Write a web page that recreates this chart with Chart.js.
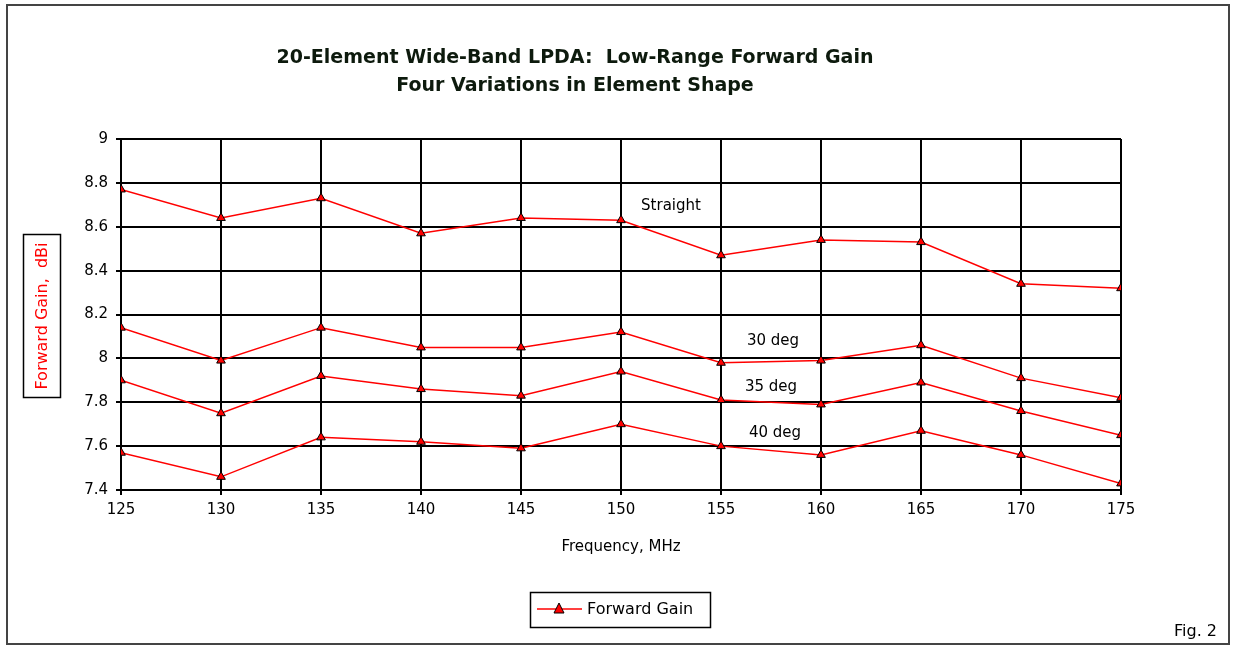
<!DOCTYPE html>
<html>
<head>
<meta charset="utf-8">
<script src="https://cdn.jsdelivr.net/npm/chart.js@4/dist/chart.umd.min.js"></script>
<style>
  body { margin: 0; background: #fff; }
  canvas { display: block; }
</style>
</head>
<body>
<canvas id="chart" width="1236" height="649"></canvas>
<script>
// frequencies (MHz) and forward gain (dBi) for the four element shapes
const freqs = [125, 130, 135, 140, 145, 150, 155, 160, 165, 170, 175];
const straight = [8.77, 8.64, 8.73, 8.57, 8.64, 8.63, 8.47, 8.54, 8.53, 8.34, 8.32];
const deg30 = [8.14, 7.99, 8.14, 8.05, 8.05, 8.12, 7.98, 7.99, 8.06, 7.91, 7.82];
const deg35 = [7.90, 7.75, 7.92, 7.86, 7.83, 7.94, 7.81, 7.79, 7.89, 7.76, 7.65];
const deg40 = [7.57, 7.46, 7.64, 7.62, 7.59, 7.70, 7.60, 7.56, 7.67, 7.56, 7.43];
const seriesNames = ['Straight', '30 deg', '35 deg', '40 deg'];
const titleLines = ['20-Element Wide-Band LPDA:  Low-Range Forward Gain', 'Four Variations in Element Shape'];

const FONT = '"DejaVu Sans", Arial, sans-serif';

function makeSet(values) {
    return {
        label: 'Forward Gain',
        data: freqs.map((f, i) => ({ x: f, y: values[i] })),
        borderColor: '#ff0000',
        borderWidth: 1.5,
        pointStyle: 'triangle',
        pointRadius: 5,
        pointBackgroundColor: '#ff0000',
        pointBorderColor: '#000',
        pointBorderWidth: 1,
        tension: 0
    };
}

const extras = {
    id: 'extras',
    afterDraw(chart) {
        const ctx = chart.ctx;
        const xs = chart.scales.x, ys = chart.scales.y;
        ctx.save();

        // outer frame
        ctx.strokeStyle = '#444';
        ctx.lineWidth = 2;
        ctx.strokeRect(7, 5, 1222, 639);

        // title
        ctx.fillStyle = '#0d1a0d';
        ctx.textAlign = 'center';
        ctx.textBaseline = 'middle';
        ctx.font = 'bold 19px ' + FONT;
        ctx.fillText(titleLines[0], 575, 58);
        ctx.fillText(titleLines[1], 575, 86);

        // y axis title in a box
        ctx.strokeStyle = '#000';
        ctx.lineWidth = 1.5;
        ctx.strokeRect(23.5, 234.5, 37, 163);
        ctx.save();
        ctx.translate(43, 316);
        ctx.rotate(-Math.PI / 2);
        ctx.fillStyle = '#ff0000';
        ctx.font = '16px ' + FONT;
        ctx.fillText('Forward Gain,  dBi', 0, 0);
        ctx.restore();

        // series notes
        const notes = [[152.5, 8.695], [157.6, 8.078], [157.5, 7.868], [157.7, 7.66]];
        ctx.fillStyle = '#000';
        ctx.font = '15px ' + FONT;
        notes.forEach((n, i) => {
            ctx.fillText(seriesNames[i], xs.getPixelForValue(n[0]), ys.getPixelForValue(n[1]));
        });

        // legend
        ctx.strokeStyle = '#000';
        ctx.lineWidth = 1.5;
        ctx.strokeRect(530.5, 592.5, 180, 35);
        ctx.strokeStyle = '#ff0000';
        ctx.lineWidth = 1.5;
        ctx.beginPath();
        ctx.moveTo(537, 609);
        ctx.lineTo(582, 609);
        ctx.stroke();
        ctx.beginPath();
        ctx.moveTo(559, 603);
        ctx.lineTo(564, 613);
        ctx.lineTo(554, 613);
        ctx.closePath();
        ctx.fillStyle = '#ff0000';
        ctx.fill();
        ctx.strokeStyle = '#000';
        ctx.lineWidth = 1;
        ctx.stroke();
        ctx.fillStyle = '#000';
        ctx.textAlign = 'left';
        ctx.font = '16px ' + FONT;
        ctx.fillText('Forward Gain', 587, 610);

        // figure tag
        ctx.textAlign = 'right';
        ctx.fillText('Fig. 2', 1217, 632);
        ctx.restore();
    }
};

new Chart(document.getElementById('chart').getContext('2d'), {
    type: 'line',
    data: {
        datasets: [makeSet(straight), makeSet(deg30), makeSet(deg35), makeSet(deg40)]
    },
    options: {
        responsive: false,
        animation: false,
        layout: { padding: { left: 21, right: 115, top: 139, bottom: 93 } },
        plugins: {
            legend: { display: false },
            title: { display: false },
            tooltip: { enabled: false }
        },
        scales: {
            x: {
                type: 'linear',
                min: 125,
                max: 175,
                afterFit: s => { s.height = 66; },
                ticks: { stepSize: 5, color: '#000', font: { family: FONT, size: 15 }, padding: 6, maxRotation: 0 },
                grid: { color: '#000', lineWidth: 2, tickLength: 5 },
                border: { color: '#000', width: 2 },
                title: {
                    display: true,
                    text: 'Frequency, MHz',
                    color: '#000',
                    font: { family: FONT, size: 15 },
                    padding: { top: 0, bottom: 0 }
                }
            },
            y: {
                min: 7.4,
                max: 9,
                afterFit: s => { s.width = 100; },
                ticks: {
                    stepSize: 0.2,
                    color: '#000',
                    font: { family: FONT, size: 15 },
                    padding: 8,
                    callback: v => String(+v.toFixed(1))
                },
                grid: { color: '#000', lineWidth: 2, tickLength: 5 },
                border: { color: '#000', width: 2 }
            }
        }
    },
    plugins: [extras]
});
</script>
</body>
</html>
